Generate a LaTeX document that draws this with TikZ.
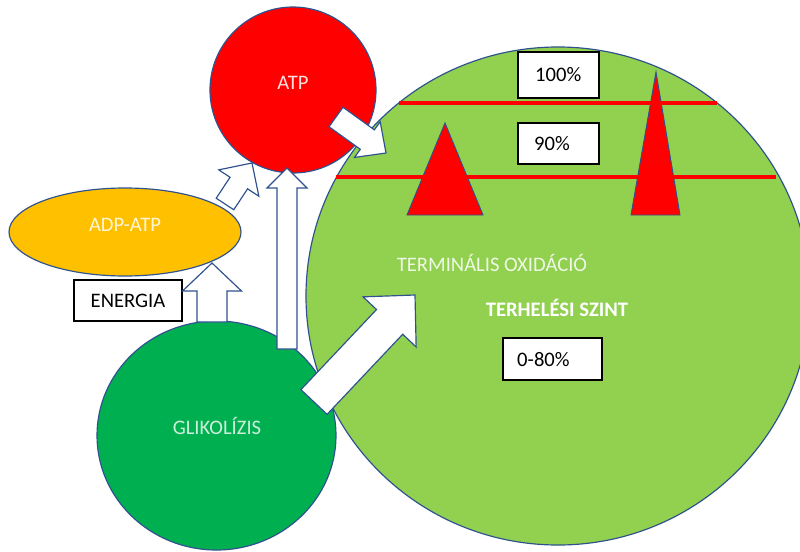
\documentclass[tikz,border=0pt]{standalone}
\usepackage{fontspec}
\setmainfont{Carlito}
\usetikzlibrary{calc,shapes.geometric}
\definecolor{outl}{HTML}{2F528F}
\definecolor{lgreen}{HTML}{92D050}
\definecolor{dgreen}{HTML}{00B050}
\definecolor{orng}{HTML}{FFC000}
\tikzset{
  circ/.style={circle, draw=outl, line width=1pt, inner sep=0pt},
  ell/.style={ellipse, draw=outl, line width=1pt, inner sep=0pt},
  boxnode/.style={rectangle, draw=black, fill=white, line width=1.5pt, inner sep=0pt},
  txt/.style={font=\fontsize{17.6}{20}\selectfont, inner sep=0pt, anchor=base, yshift=-0.2cm},
  txtw/.style={txt, anchor=base west},
  barrow/.style={draw=outl, fill=white, line width=1pt, line join=miter},
  redline/.style={draw=red, line width=3.4pt},
  tri/.style={draw=outl, fill=red, line width=0.8pt}
}
% tail, tip, half shaft (px), half head (px), head length (px)
\newcommand\blockarrow[5]{%
  \pgfmathsetmacro\bsw{#3*0.03}%
  \pgfmathsetmacro\bhw{#4*0.03}%
  \pgfmathsetmacro\bhl{#5*0.03}%
  \coordinate (hb) at ($(#2)!\bhl cm!(#1)$);
  \filldraw[barrow] ($(#1)!\bsw cm!90:(#2)$) -- ($(hb)!\bsw cm!90:(#2)$) -- ($(hb)!\bhw cm!90:(#2)$) -- (#2) -- ($(hb)!\bhw cm!-90:(#2)$) -- ($(hb)!\bsw cm!-90:(#2)$) -- ($(#1)!\bsw cm!-90:(#2)$) -- cycle;}
\begin{document}
\begin{tikzpicture}[x=0.03cm,y=-0.03cm]
\clip (0,0) rectangle (800,551);
\fill[white] (0,0) rectangle (800,551);
% big green ellipse
\node[ell, fill=lgreen, minimum width=15.12cm, minimum height=14.94cm] (term) at (558,296) {};
% triangles
\filldraw[tri] (445,123) -- (407,215) -- (483,215) -- cycle;
\filldraw[tri] (656,72) -- (631,215) -- (680,215) -- cycle;
% red lines
\coordinate (l1a) at (399,103); \coordinate (l1b) at (717,103);
\coordinate (l2a) at (336,177); \coordinate (l2b) at (776,177);
\draw[redline] (l1a) -- (l1b);
\draw[redline] (l2a) -- (l2b);
% boxes
\node[boxnode, minimum width=2.43cm, minimum height=1.38cm] (b100) at (558.5,75) {};
\node[boxnode, minimum width=2.43cm, minimum height=1.23cm] (b90) at (558.5,143.5) {};
\node[boxnode, minimum width=2.97cm, minimum height=1.26cm] (b080) at (552.5,359) {};
\node[txtw] (t100) at (535,75) {100\%};
\node[txtw] (t90) at (534,144) {90\%};
\node[txtw] (t080) at (517,360) {0-80\%};
\node[txt, text=white!85!lgreen] (tox) at (492,265) {TERMINÁLIS OXIDÁCIÓ};
\node[txt, text=white, font=\fontsize{17.6}{20}\selectfont\bfseries] (tsz) at (557,310) {TERHELÉSI SZINT};
% ATP
\node[circ, fill=red, minimum size=4.98cm] (atp) at (293,90) {};
\node[txt, text=white!88!red] (tatp) at (293,83) {ATP};
% ADP-ATP
\node[ell, fill=orng, minimum width=6.96cm, minimum height=2.64cm] (adp) at (125,232) {};
\node[txt, text=white!85!orng] (tadp) at (125,225) {ADP-ATP};
% ENERGIA
\node[boxnode, minimum width=3.24cm, minimum height=1.23cm] (ben) at (128,300.5) {};
\node[txt] (ten) at (128,301) {ENERGIA};
% glycolysis
\node[ell, fill=dgreen, minimum width=7.17cm, minimum height=6.87cm] (gly) at (216.5,435.5) {};
\node[txt, text=white!80!dgreen] (tgly) at (217,428) {GLIKOLÍZIS};
% arrows
\coordinate (a1s) at (212,322); \coordinate (a1e) at (212,263);
\coordinate (a2s) at (225,204); \coordinate (a2e) at (252,163);
\coordinate (a3s) at (287,349); \coordinate (a3e) at (287,168);
\coordinate (a4s) at (336,117); \coordinate (a4e) at (386,153);
\coordinate (a5s) at (314,402); \coordinate (a5e) at (415,295);
\blockarrow{a1s}{a1e}{15}{29.5}{28}
\blockarrow{a2s}{a2e}{10.5}{24}{24}
\blockarrow{a3s}{a3e}{10}{20}{20}
\blockarrow{a4s}{a4e}{12}{22}{23}
\blockarrow{a5s}{a5e}{18}{36.5}{37}
\end{tikzpicture}
\end{document}
